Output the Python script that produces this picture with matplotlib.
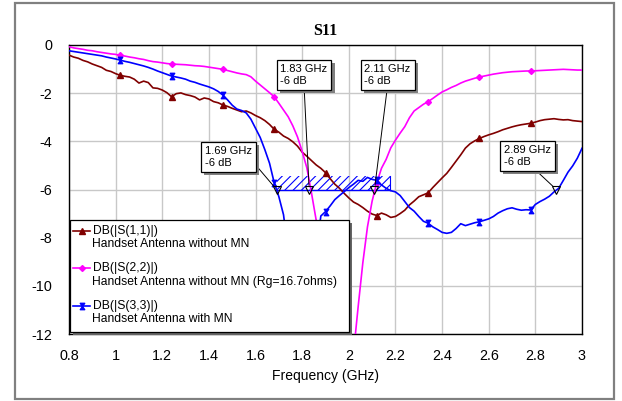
import numpy as np
import matplotlib
matplotlib.use("Agg")
import matplotlib.pyplot as plt
from matplotlib.patches import Rectangle
from matplotlib.path import Path
from matplotlib.lines import Line2D
import matplotlib.patheffects as pe

plt.rcParams['font.family'] = ['Liberation Sans', 'DejaVu Sans']
plt.rcParams['hatch.linewidth'] = 0.8

# ---- measured return loss traces (dB) on a 20 MHz grid, 0.8 .. 3.0 GHz ----
freq_ghz = np.round(np.arange(0.80, 3.0001, 0.02), 2)

s11_db = [
    -0.42, -0.50, -0.55, -0.64, -0.70, -0.79, -0.86, -0.93, -1.05, -1.10,
    -1.19, -1.26, -1.30, -1.33, -1.42, -1.58, -1.50, -1.56, -1.78, -1.80,
    -1.87, -1.98, -2.15, -2.02, -1.99, -2.06, -2.10, -2.16, -2.28, -2.20,
    -2.24, -2.35, -2.40, -2.49, -2.55, -2.63, -2.70, -2.77, -2.74, -2.82,
    -2.93, -3.02, -3.14, -3.30, -3.50, -3.62, -3.78, -3.88, -4.02, -4.20,
    -4.45, -4.62, -4.80, -4.98, -5.12, -5.30, -5.55, -5.78, -5.95, -6.16,
    -6.35, -6.52, -6.62, -6.75, -6.90, -7.02, -7.08, -6.98, -7.05, -7.16,
    -7.12, -7.00, -6.86, -6.64, -6.48, -6.30, -6.22, -6.14, -5.92, -5.72,
    -5.52, -5.33, -5.08, -4.82, -4.56, -4.28, -4.10, -3.98, -3.88, -3.80,
    -3.73, -3.67, -3.60, -3.52, -3.46, -3.40, -3.35, -3.31, -3.28, -3.25,
    -3.20, -3.14, -3.10, -3.08, -3.06, -3.09, -3.11, -3.10, -3.14, -3.16,
    -3.18,
]

s22_db = [
    -0.07, -0.12, -0.15, -0.18, -0.22, -0.24, -0.28, -0.31, -0.34, -0.37,
    -0.39, -0.43, -0.46, -0.50, -0.53, -0.57, -0.60, -0.65, -0.69, -0.71,
    -0.74, -0.77, -0.79, -0.80, -0.81, -0.82, -0.84, -0.86, -0.87, -0.89,
    -0.92, -0.95, -0.98, -1.01, -1.06, -1.11, -1.16, -1.20, -1.23, -1.32,
    -1.50, -1.66, -1.82, -1.98, -2.15, -2.42, -2.70, -2.98, -3.36, -3.82,
    -4.42, -5.10, -6.15, -7.27, -8.90, -10.6, -12.4, -14.5, -16.5, -17.5,
    -15.5, -12.8, -10.87, -9.05, -7.55, -6.48, -5.72, -5.12, -4.75, -4.27,
    -3.95, -3.66, -3.39, -3.02, -2.74, -2.60, -2.46, -2.35, -2.22, -2.08,
    -1.95, -1.86, -1.76, -1.68, -1.58, -1.50, -1.44, -1.38, -1.33, -1.29,
    -1.25, -1.21, -1.18, -1.15, -1.13, -1.11, -1.10, -1.09, -1.08, -1.08,
    -1.07, -1.06, -1.05, -1.04, -1.03, -1.02, -1.01, -1.02, -1.03, -1.04,
    -1.04,
]

s33_db = [
    -0.24, -0.27, -0.30, -0.33, -0.36, -0.39, -0.42, -0.45, -0.50, -0.54,
    -0.58, -0.63, -0.68, -0.72, -0.77, -0.82, -0.87, -0.93, -1.00, -1.08,
    -1.15, -1.22, -1.29, -1.33, -1.37, -1.42, -1.50, -1.55, -1.62, -1.68,
    -1.74, -1.82, -1.93, -2.08, -2.28, -2.50, -2.66, -2.72, -2.82, -3.08,
    -3.46, -3.84, -4.35, -4.91, -5.72, -6.30, -7.05, -8.60, -10.5, -12.5,
    -14.0, -13.0, -10.8, -8.60, -7.10, -6.92, -6.68, -6.42, -6.25, -6.09,
    -5.92, -5.78, -5.62, -5.66, -5.50, -5.58, -5.62, -5.81, -5.95, -6.05,
    -6.10, -6.25, -6.50, -6.75, -6.90, -7.12, -7.32, -7.40, -7.55, -7.66,
    -7.78, -7.82, -7.78, -7.62, -7.42, -7.50, -7.44, -7.38, -7.34, -7.28,
    -7.22, -7.12, -6.98, -6.88, -6.80, -6.76, -6.82, -6.86, -6.84, -6.85,
    -6.62, -6.50, -6.40, -6.28, -6.10, -5.95, -5.62, -5.28, -5.02, -4.70,
    -4.29,
]

# trace markers every 220 MHz
marker_ghz = [1.02, 1.24, 1.46, 1.68, 1.90, 2.12, 2.34, 2.56, 2.78]

# -6 dB cursor readouts
cursor_ghz = [1.69, 1.83, 2.11, 2.89]
cursor_db = [-6, -6, -6, -6]

# hatched -6 dB band of the matched antenna
band_ghz = [1.69, 2.175]
band_db = [-6.0, -5.45]

legend_titles = ["DB(|S(1,1)|)", "DB(|S(2,2)|)", "DB(|S(3,3)|)"]
legend_desc = ["Handset Antenna without MN",
               "Handset Antenna without MN (Rg=16.7ohms)",
               "Handset Antenna with MN"]

x_ticks = [0.8, 1.0, 1.2, 1.4, 1.6, 1.8, 2.0, 2.2, 2.4, 2.6, 2.8, 3.0]
y_ticks = [0, -2, -4, -6, -8, -10, -12]

colors = ['#800000', '#ff00ff', '#0000ff']

# marker shapes: triangle, diamond, hourglass
hourglass = Path([(-0.7, 1), (0.7, 1), (0, 0), (0.7, -1), (-0.7, -1), (0, 0), (-0.7, 1)],
                 [Path.MOVETO, Path.LINETO, Path.LINETO, Path.LINETO,
                  Path.LINETO, Path.LINETO, Path.CLOSEPOLY])
markers = ['^', 'D', hourglass]
msizes = [4.2, 3.0, 4.6]

W, H = 622, 401
fig = plt.figure(figsize=(W / 100, H / 100), dpi=100)
ax = fig.add_axes([69 / W, 1 - 334 / H, 513 / W, 289 / H])

# outer frame
fig.patches.append(Rectangle((15 / W, 2.5 / H), 599 / W, 395.5 / H, transform=fig.transFigure,
                             fill=False, edgecolor='#808080', linewidth=1.6, zorder=0))

mk_idx = [int(np.argmin(np.abs(freq_ghz - m))) for m in marker_ghz]
series = [s11_db, s22_db, s33_db]
for vals, c, m, ms in zip(series, colors, markers, msizes):
    ax.plot(freq_ghz, vals, color=c, lw=1.2, marker=m, markersize=ms,
            markevery=mk_idx, markerfacecolor=c, markeredgecolor=c, zorder=3)

# hatched band
bx = np.array(band_ghz)
ax.fill_between(bx, band_db[0], band_db[1], facecolor='none', edgecolor='#0000ff',
                hatch='////', linewidth=0, zorder=2)
ax.plot(bx, [band_db[0], band_db[0]], color='#0000ff', lw=1.0, zorder=2)
ax.plot([bx[1], bx[1]], band_db, color='#0000ff', lw=0.8, zorder=2)

# cursors with readout boxes
box_pos = [(1.484, -4.65), (1.808, -1.25), (2.166, -1.25), (2.766, -4.61)]
box_rel = [(1.0, 0.33), (0.5, 0.0), (0.5, 0.0), (0.6, 0.0)]
ax.plot(cursor_ghz, cursor_db, linestyle='none', marker='v', markersize=6,
        markerfacecolor='none', markeredgecolor='black', markeredgewidth=0.8, zorder=5)
for f, d, bp, rp in zip(cursor_ghz, cursor_db, box_pos, box_rel):
    t = ax.annotate(f"{f:.2f} GHz\n{d:g} dB", xy=(f, d), xytext=bp,
                    ha='center', va='center', multialignment='left', fontsize=8,
                    bbox=dict(boxstyle='square,pad=0.35', fc='white', ec='black', lw=0.9),
                    arrowprops=dict(arrowstyle='-', color='black', lw=0.7,
                                    relpos=rp, shrinkA=0, shrinkB=3),
                    zorder=6)
    t.get_bbox_patch().set_path_effects([
        pe.SimplePatchShadow(offset=(2.2, -2.2), shadow_rgbFace='#808080', alpha=1.0),
        pe.Normal()])

# axes styling
ax.set_xlim(0.8, 3.0)
ax.set_ylim(-12, 0)
ax.set_xticks(x_ticks)
ax.set_yticks(y_ticks)
ax.set_xticklabels([f"{v:g}" for v in x_ticks])
ax.set_yticklabels([f"{v:g}" for v in y_ticks])
ax.tick_params(length=0, labelsize=10.4)
ax.tick_params(axis='x', pad=11)
ax.tick_params(axis='y', pad=12)
ax.grid(True, color='#c8c8c8', lw=1.0)
ax.set_axisbelow(True)
for s in ax.spines.values():
    s.set_linewidth(1.0)
    s.set_color('black')
ax.set_xlabel("Frequency (GHz)", fontsize=10)
ax.xaxis.set_label_coords(0.5, -0.122)
fig.text(325.5 / W, 1 - 31 / H, "S11", ha='center', va='center',
         fontsize=11.6, fontweight='bold', family=['Liberation Serif', 'DejaVu Serif'])

# legend box
def axp(px, py):
    return ((px - 69) / 513, (334 - py) / 289)

lx0, ly0 = axp(69.5, 332)
lx1, ly1 = axp(349, 219.5)
sh = (3 / 513, -3 / 289)
ax.add_patch(Rectangle((lx0 + sh[0], ly0 + sh[1]), lx1 - lx0, ly1 - ly0, transform=ax.transAxes,
                       facecolor='#666666', edgecolor='none', zorder=8, clip_on=False))
ax.add_patch(Rectangle((lx0, ly0), lx1 - lx0, ly1 - ly0, transform=ax.transAxes,
                       facecolor='white', edgecolor='black', lw=0.9, zorder=9, clip_on=False))
row_y = [231, 268.3, 306]
for title, desc, c, m, ms, ry in zip(legend_titles, legend_desc, colors, markers, msizes, row_y):
    hx0, hy = axp(73, ry)
    hx1, _ = axp(90, ry)
    ax.add_line(Line2D([hx0, hx1], [hy, hy], transform=ax.transAxes, color=c, lw=1.2, zorder=10))
    ax.add_line(Line2D([(hx0 + hx1) / 2], [hy], transform=ax.transAxes, color=c, marker=m,
                       markersize=ms, zorder=10))
    tx, ty = axp(92.5, ry)
    ax.text(tx, ty, title, transform=ax.transAxes, fontsize=8.7, va='center', ha='left', zorder=10)
    tx2, ty2 = axp(92.5, ry + 13.5)
    ax.text(tx2, ty2, desc, transform=ax.transAxes, fontsize=8.7, va='center', ha='left', zorder=10)

fig.savefig("out.png", dpi=100)
